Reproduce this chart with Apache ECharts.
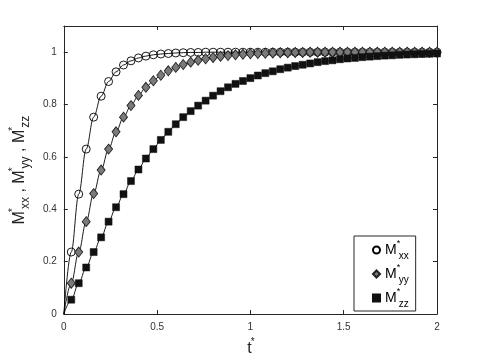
<!DOCTYPE html>
<html>
<head>
<meta charset="utf-8">
<script src="https://cdn.jsdelivr.net/npm/echarts@6/dist/echarts.min.js"></script>
<style>html,body{margin:0;padding:0;background:#fff;}#c{width:482px;height:362px;}</style>
</head>
<body>
<div id="c"></div>
<script>
const tValues = [0, 0.04, 0.08, 0.12, 0.16, 0.20, 0.24, 0.28, 0.32, 0.36, 0.40,
  0.44, 0.48, 0.52, 0.56, 0.60, 0.64, 0.68, 0.72, 0.76, 0.80,
  0.84, 0.88, 0.92, 0.96, 1.00, 1.04, 1.08, 1.12, 1.16, 1.20,
  1.24, 1.28, 1.32, 1.36, 1.40, 1.44, 1.48, 1.52, 1.56, 1.60,
  1.64, 1.68, 1.72, 1.76, 1.80, 1.84, 1.88, 1.92, 1.96, 2.00];
const mxx = [0, 0.237, 0.458, 0.630, 0.752, 0.832, 0.888, 0.925, 0.951, 0.967, 0.978,
  0.985, 0.990, 0.993, 0.995, 0.997, 0.998, 0.999, 0.999, 1.000, 1.000,
  1.000, 1.000, 1.000, 1.000, 1.000, 1.000, 1.000, 1.000, 1.000, 1.000,
  1.000, 1.000, 1.000, 1.000, 1.000, 1.000, 1.000, 1.000, 1.000, 1.000,
  1.000, 1.000, 1.000, 1.000, 1.000, 1.000, 1.000, 1.000, 1.000, 1.000];
const myy = [0, 0.118, 0.237, 0.353, 0.460, 0.550, 0.630, 0.696, 0.752, 0.796, 0.835,
  0.866, 0.891, 0.912, 0.929, 0.942, 0.953, 0.962, 0.969, 0.975, 0.980,
  0.984, 0.987, 0.990, 0.992, 0.994, 0.995, 0.996, 0.997, 0.998, 0.998,
  0.999, 0.999, 1.000, 1.000, 1.000, 1.000, 1.000, 1.000, 1.000, 1.000,
  1.000, 1.000, 1.000, 1.000, 1.000, 1.000, 1.000, 1.000, 1.000, 1.000];
const mzz = [0, 0.055, 0.118, 0.178, 0.237, 0.293, 0.353, 0.408, 0.458, 0.508, 0.552,
  0.594, 0.630, 0.665, 0.696, 0.725, 0.752, 0.775, 0.796, 0.815, 0.834,
  0.851, 0.866, 0.879, 0.890, 0.901, 0.911, 0.920, 0.927, 0.935, 0.941,
  0.947, 0.952, 0.957, 0.962, 0.966, 0.969, 0.973, 0.976, 0.978, 0.981,
  0.983, 0.985, 0.987, 0.988, 0.990, 0.991, 0.992, 0.993, 0.994, 0.995];
const seriesNames = ['Mxx', 'Myy', 'Mzz'];
const seriesSubs = ['xx', 'yy', 'zz'];
const xTicks = {min: 0, max: 2, interval: 0.5};
const yTicks = {min: 0, max: 1.1, interval: 0.2};

const FONT = 'Liberation Sans, Arial, Helvetica, sans-serif';
const AX = '#262626';
const pairs = arr => tValues.map((t, i) => [t, arr[i]]);
const markerPairs = arr => pairs(arr).slice(1);

const rich = {
  m: {fontFamily: FONT, fontSize: 14, color: '#000', lineHeight: 22, verticalAlign: 'middle'},
  s: {fontFamily: FONT, fontSize: 9, color: '#000', lineHeight: 22, verticalAlign: 'top', width: 2},
  b: {fontFamily: FONT, fontSize: 10, color: '#000', lineHeight: 22, verticalAlign: 'bottom'}
};
const nameRich = {
  m: {fontFamily: FONT, fontSize: 16, color: '#222', lineHeight: 24, verticalAlign: 'middle'},
  s: {fontFamily: FONT, fontSize: 10, color: '#222', lineHeight: 24, verticalAlign: 'top', width: 2},
  b: {fontFamily: FONT, fontSize: 12, color: '#222', lineHeight: 24, verticalAlign: 'bottom'}
};

const lineSeries = arr => ({
  type: 'line', data: pairs(arr), showSymbol: false, symbol: 'none',
  smooth: 0.35, smoothMonotone: 'x',
  lineStyle: {color: '#000', width: 0.9}, z: 2, silent: true, animation: false
});

const chart = echarts.init(document.getElementById('c'), null, {renderer: 'canvas'});
const axisCommon = {
  type: 'value',
  axisLine: {show: true, onZero: false, lineStyle: {color: AX, width: 1}},
  axisTick: {show: true, inside: true, length: 4, lineStyle: {color: AX, width: 1}},
  splitLine: {show: false}
};
chart.setOption({
  animation: false,
  backgroundColor: '#fff',
  grid: {left: 62, right: 45, top: 26, bottom: 40},
  xAxis: [
    Object.assign({}, axisCommon, xTicks, {
      position: 'bottom',
      axisLabel: {color: '#333', fontFamily: FONT, fontSize: 10, margin: 8},
      name: '{m|t}{s|*}', nameLocation: 'middle', nameGap: 20,
      nameTextStyle: {rich: nameRich}
    }),
    Object.assign({}, axisCommon, xTicks, {position: 'top', axisLabel: {show: false}})
  ],
  yAxis: [
    Object.assign({}, axisCommon, yTicks, {
      position: 'left',
      axisLabel: {color: '#333', fontFamily: FONT, fontSize: 10, margin: 7, showMaxLabel: false},
      name: '{m|M}{s|*}{b|xx}{m| , M}{s|*}{b|yy}{m| , M}{s|*}{b|zz}',
      nameLocation: 'middle', nameGap: 27, nameRotate: 90,
      nameTextStyle: {rich: nameRich}
    }),
    Object.assign({}, axisCommon, yTicks, {position: 'right', axisLabel: {show: false}})
  ],
  legend: {
    orient: 'vertical', left: 354, top: 236,
    padding: [3, 7, 2, 18], itemGap: 2,
    itemWidth: 7, itemHeight: 7,
    backgroundColor: '#fff', borderColor: AX, borderWidth: 1,
    data: seriesNames,
    formatter: name => '{m|M}{s|*}{b|' + seriesSubs[seriesNames.indexOf(name)] + '}',
    textStyle: {rich: rich},
    selectedMode: false
  },
  series: [
    lineSeries(mxx), lineSeries(myy), lineSeries(mzz),
    {name: seriesNames[0], type: 'scatter', data: markerPairs(mxx), symbol: 'circle', symbolSize: 8,
      itemStyle: {color: 'rgba(255,255,255,0)', borderColor: '#000', borderWidth: 0.9, opacity: 1}, z: 3},
    {name: seriesNames[1], type: 'scatter', data: markerPairs(myy), symbol: 'diamond', symbolSize: [8, 10],
      itemStyle: {color: '#7a7a7a', borderColor: '#222', borderWidth: 0.9, opacity: 1}, z: 4},
    {name: seriesNames[2], type: 'scatter', data: markerPairs(mzz), symbol: 'rect', symbolSize: 7,
      itemStyle: {color: '#111', borderColor: '#111', borderWidth: 0.5, opacity: 1}, z: 5}
  ]
});
</script>
</body>
</html>
